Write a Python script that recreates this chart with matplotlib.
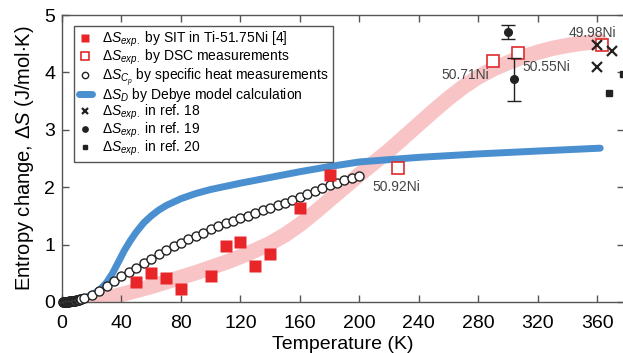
import matplotlib
matplotlib.use('Agg')
import matplotlib.pyplot as plt

plt.rcParams['font.family'] = ['Liberation Sans', 'DejaVu Sans']
plt.rcParams['mathtext.fontset'] = 'custom'
plt.rcParams['mathtext.rm'] = 'Liberation Sans'
plt.rcParams['mathtext.it'] = 'Liberation Sans:italic'

# fitted guide curve (pink band)
fit_T = [20, 30, 40, 50, 60, 70, 80, 90, 100, 110, 120, 130, 140, 150, 160, 170, 180, 190,
         200, 210, 220, 230, 240, 250, 260, 270, 280, 290, 300, 310, 320, 330, 340, 350, 362]
fit_S = [0, 0.06, 0.13, 0.2, 0.27, 0.35, 0.43, 0.51, 0.6, 0.69, 0.79, 0.9, 1.02, 1.17, 1.35,
         1.56, 1.78, 2.0, 2.22, 2.43, 2.64, 2.87, 3.1, 3.33, 3.55, 3.75, 3.92, 4.06, 4.17,
         4.27, 4.35, 4.42, 4.47, 4.51, 4.54]

# Debye model
deb_T = [14, 18, 22, 26, 30, 34, 38, 42, 46, 50, 55, 60, 65, 70, 80, 90, 100, 120, 140,
         160, 180, 200, 240, 280, 320, 362]
deb_S = [0.06, 0.1, 0.15, 0.23, 0.34, 0.5, 0.7, 0.9, 1.07, 1.22, 1.38, 1.5, 1.6, 1.68, 1.8,
         1.89, 1.96, 2.07, 2.17, 2.27, 2.36, 2.44, 2.52, 2.58, 2.63, 2.68]

# specific heat
cp_T = [0.5, 1, 1.5, 2, 2.5, 3, 3.5, 4, 4.5, 5, 5.5, 6, 6.5, 7, 7.5, 8, 8.5, 9, 9.5, 10,
        10.5, 11, 11.5, 12, 12.5, 13,
        15, 20, 25, 30, 35, 40, 45, 50, 55, 60, 65, 70, 75, 80, 85, 90, 95, 100,
        105, 110, 115, 120, 125, 130, 135, 140, 145, 150, 155, 160, 165, 170,
        175, 180, 185, 190, 195, 200]
cp_S = [0, 0, 0, 0, 0, 0, 0, 0.005, 0.005, 0.01, 0.01, 0.01, 0.015, 0.015, 0.02, 0.02,
        0.025, 0.025, 0.03, 0.03, 0.035, 0.04, 0.04, 0.045, 0.05, 0.05,
        0.07, 0.12, 0.19, 0.28, 0.37, 0.46, 0.53, 0.6, 0.68, 0.75, 0.83, 0.9, 0.97, 1.03,
        1.09, 1.15, 1.21, 1.27, 1.32, 1.37, 1.41, 1.46, 1.5, 1.55, 1.6, 1.64, 1.69,
        1.73, 1.78, 1.83, 1.88, 1.93, 1.98, 2.03, 2.07, 2.12, 2.16, 2.2]

# SIT
sit_T = [50, 60, 70, 80, 100, 110, 120, 130, 140, 160, 180]
sit_S = [0.34, 0.51, 0.41, 0.22, 0.45, 0.98, 1.05, 0.62, 0.84, 1.64, 2.22]

# DSC
dsc_T = [226, 290, 307, 363]
dsc_S = [2.33, 4.19, 4.33, 4.47]
dsc_labels = ['50.92Ni', '50.71Ni', '50.55Ni', '49.98Ni']

ref18_T = [360, 370, 360]
ref18_S = [4.47, 4.38, 4.1]
ref19_T = [300, 304]
ref19_S = [4.7, 3.88]
ref19_err = [0.12, 0.37]
ref20_T = [368, 377]
ref20_S = [3.64, 3.97]

fig = plt.figure(figsize=(6.23, 3.53), dpi=100)
ax = fig.add_axes([62 / 623, 51 / 353, 562 / 623, 287 / 353])

ax.plot(fit_T, fit_S, color='#f8c4c6', lw=11, solid_capstyle='round', zorder=1)
h_deb, = ax.plot(deb_T, deb_S, color='#4a8fcf', lw=5, solid_capstyle='round', zorder=2)
h_sit, = ax.plot(sit_T, sit_S, 's', color='#e8262a', ms=8.5, mec='none', zorder=4)
h_dsc, = ax.plot(dsc_T, dsc_S, 's', mfc='white', mec='#e02b2b', mew=1.2, ms=8, zorder=4)
h_cp, = ax.plot(cp_T, cp_S, 'o', mfc='white', mec='#222222', mew=1.0, ms=6.5, zorder=3,
                clip_on=False)
h_18, = ax.plot(ref18_T, ref18_S, 'x', color='#222222', ms=6.5, mew=1.6, zorder=5)
ax.errorbar(ref19_T, ref19_S, yerr=ref19_err, fmt='none', ecolor='#222222',
            capsize=5, elinewidth=1, capthick=1, zorder=5)
h_19, = ax.plot(ref19_T, ref19_S, 'o', color='#222222', ms=5.5, zorder=6)
h_20, = ax.plot(ref20_T, ref20_S, 's', color='#222222', ms=5, zorder=5)

ax.text(209, 2.0, dsc_labels[0], fontsize=10, color='#444444', va='center')
ax.text(287, 3.95, dsc_labels[1], fontsize=10, color='#444444', va='center', ha='right')
ax.text(310, 4.09, dsc_labels[2], fontsize=10, color='#444444', va='center')
ax.text(341, 4.69, dsc_labels[3], fontsize=10, color='#444444', va='center')

ax.set_xlim(0, 378)
ax.set_ylim(0, 5)
ax.set_xticks(range(0, 361, 40))
ax.set_yticks(range(0, 6))
ax.tick_params(direction='in', length=5, width=1, top=True, right=True,
               labelsize=14, color='#555555')
ax.tick_params(axis='x', pad=9)
ax.tick_params(axis='y', pad=5)
for s in ax.spines.values():
    s.set_color('#555555')
    s.set_linewidth(1)
ax.set_xlabel('Temperature (K)', fontsize=14, labelpad=3)
ax.set_ylabel(r'Entropy change, $\Delta S$ (J/mol$\cdot$K)', fontsize=14.5, labelpad=6)

handles = [h_sit, h_dsc, h_cp, h_deb, h_18, h_19, h_20]
labels = [r'$\Delta S_{exp.}$ by SIT in Ti-51.75Ni [4]',
          r'$\Delta S_{exp.}$ by DSC measurements',
          r'$\Delta S_{C_p}$ by specific heat measurements',
          r'$\Delta S_D$ by Debye model calculation',
          r'$\Delta S_{exp.}$ in ref. 18',
          r'$\Delta S_{exp.}$ in ref. 19',
          r'$\Delta S_{exp.}$ in ref. 20']
leg = ax.legend(handles, labels, loc='upper left',
                bbox_to_anchor=(0.022, 0.962), borderaxespad=0, fontsize=10,
                frameon=True, fancybox=False, edgecolor='#555555', framealpha=1,
                handlelength=1.0, handletextpad=0.7, labelspacing=-0.1,
                borderpad=0.3, markerscale=0.7)
leg.get_frame().set_linewidth(1)

fig.savefig('out.png', dpi=100)
